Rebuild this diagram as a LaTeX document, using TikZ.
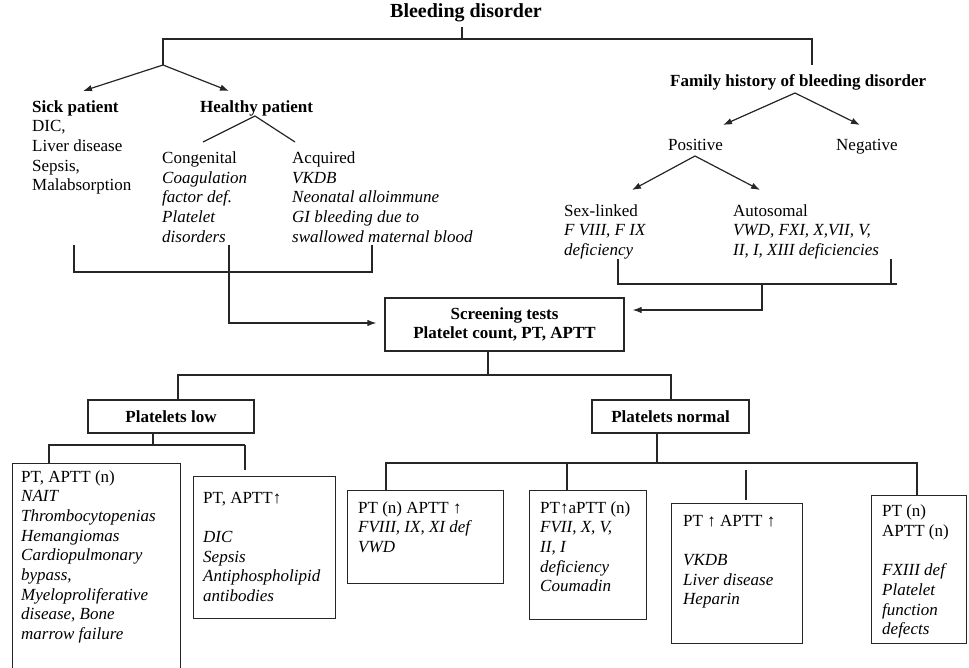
\documentclass[tikz,border=0pt]{standalone}
\usepackage{fontspec}
\setmainfont{Liberation Serif}
\usetikzlibrary{arrows.meta}
\tikzset{
  txt/.style={inner sep=0pt, anchor=base west, align=left, font=\fontsize{17}{19.7}\selectfont},
  hdr/.style={txt, font=\bfseries\fontsize{17}{19.7}\selectfont},
  ln/.style={line width=1.2pt, draw=black!85},
  arr/.style={ln, -{Latex[length=9pt,width=6.5pt]}},
  frame/.style={draw=black!85, line width=1.2pt, anchor=north west, inner sep=0pt},
  bbox/.style={draw=black!85, line width=1.2pt, inner sep=0pt, align=center, font=\bfseries\fontsize{17}{19.7}\selectfont},
}
\begin{document}
\begin{tikzpicture}[x=1pt,y=-1pt]
\useasboundingbox (0,0) rectangle (969,667);

% title and top split
\node[font=\bfseries\fontsize{20}{24}\selectfont, inner sep=0pt, anchor=base] (title) at (466,17.5) {Bleeding disorder};
\coordinate (tv) at (462,27);
\coordinate (hl) at (163,39);
\coordinate (hr) at (812,39);
\coordinate (jl) at (163,65);
\coordinate (jr) at (812,65);
\draw[ln] (tv) |- (hl) -- (jl);
\draw[ln] (tv) |- (hr) -- (jr);

% left side (multi-line nodes are placed by the baseline of their last line)
\node[txt] (sick) at (32,190.8) {\textbf{Sick patient}\\DIC,\\Liver disease\\Sepsis,\\Malabsorption};
\node[hdr] (healthy) at (200,112) {Healthy patient};
\coordinate (as) at (83,91);
\coordinate (ah) at (229,91);
\draw[arr] (jl) -- (as);
\draw[arr] (jl) -- (ah);
\coordinate (hs) at (255,116);
\coordinate (hc) at (203,142);
\coordinate (ha) at (295,142);
\draw[ln] (hc) -- (hs) -- (ha);
\node[txt] (cong) at (162,242.1) {Congenital\\\textit{Coagulation}\\\textit{factor def.}\\\textit{Platelet}\\\textit{disorders}};
\node[txt] (acq) at (292,242.1) {Acquired\\\textit{VKDB}\\\textit{Neonatal alloimmune}\\\textit{GI bleeding due to}\\\textit{swallowed maternal blood}};

% right side
\node[hdr] (fam) at (670,86.7) {Family history of bleeding disorder};
\coordinate (fs) at (795,93);
\coordinate (fp) at (723,125);
\coordinate (fn) at (860,125);
\draw[arr] (fs) -- (fp);
\draw[arr] (fs) -- (fn);
\node[txt] (pos) at (668,150.7) {Positive};
\node[txt] (neg) at (836,150.7) {Negative};
\coordinate (ps) at (695,156);
\coordinate (pl) at (632,190);
\coordinate (pa) at (760,190);
\draw[arr] (ps) -- (pl);
\draw[arr] (ps) -- (pa);
\node[txt] (sex) at (564,255.4) {Sex-linked\\\textit{F VIII, F IX}\\\textit{deficiency}};
\node[txt] (auto) at (733,255.4) {Autosomal\\\textit{VWD, FXI, X,VII, V,}\\\textit{II, I, XIII deficiencies}};

% screening
\node[bbox, minimum width=239pt, minimum height=53pt] (screen) at (504.5,324.5) {Screening tests\\Platelet count, PT, APTT};

\coordinate (b1) at (74,245);
\coordinate (b2) at (74,272);
\coordinate (b3) at (372,272);
\coordinate (b4) at (372,245);
\coordinate (bm) at (229,245);
\coordinate (bn) at (229,323);
\draw[ln] (b1) -- (b2) -- (b3) -- (b4);
\draw[arr, shorten >=8pt] (bm) -- (bn) -- (screen.west |- bn);

\coordinate (r1) at (618,259);
\coordinate (r2) at (618,284);
\coordinate (r3) at (897,284);
\coordinate (r4) at (891,259);
\coordinate (rm) at (762,284);
\coordinate (rn) at (762,310);
\draw[ln] (r1) -- (r2) -- (r3);
\draw[ln] (r4) -- (r4 |- r3);
\draw[arr, shorten >=8pt] (rm) -- (rn) -- (screen.east |- rn);

% platelets
\coordinate (sv) at (488,375);
\coordinate (lv) at (178,375);
\coordinate (nv) at (671,375);
\node[bbox, minimum width=166pt, minimum height=33pt] (low) at (171,416.5) {Platelets low};
\node[bbox, minimum width=157pt, minimum height=33pt] (normal) at (670.5,416.5) {Platelets normal};
\draw[ln] (screen.south -| sv) -- (sv);
\draw[ln] (low.north -| lv) -- (lv) -- (nv) -- (normal.north -| nv);

% result boxes
\node[frame, minimum width=168pt, minimum height=215pt] (boxA) at (12,463) {};
\node[frame, minimum width=142pt, minimum height=142pt] (boxB) at (193,476) {};
\node[frame, minimum width=156pt, minimum height=93pt] (boxC) at (347,490) {};
\node[frame, minimum width=117pt, minimum height=129pt] (boxD) at (529,490) {};
\node[frame, minimum width=131pt, minimum height=140pt] (boxE) at (671,503) {};
\node[frame, minimum width=95pt, minimum height=148pt] (boxF) at (871,495) {};

\node[txt] (txA) at (21,639.6) {PT, APTT (n)\\\textit{NAIT}\\\textit{Thrombocytopenias}\\\textit{Hemangiomas}\\\textit{Cardiopulmonary}\\\textit{bypass,}\\\textit{Myeloproliferative}\\\textit{disease, Bone}\\\textit{marrow failure}};
\node[txt] (txB) at (203,601.5) {PT, APTT↑\\[19.7pt]\textit{DIC}\\\textit{Sepsis}\\\textit{Antiphospholipid}\\\textit{antibodies}};
\node[txt] (txC) at (358,552.4) {PT (n) APTT ↑\\\textit{FVIII, IX, XI def}\\\textit{VWD}};
\node[txt] (txD) at (540,591.8) {PT↑aPTT (n)\\\textit{FVII, X, V,}\\\textit{II, I}\\\textit{deficiency}\\\textit{Coumadin}};
\node[txt] (txE) at (683,604.8) {PT ↑ APTT ↑\\[19.7pt]\textit{VKDB}\\\textit{Liver disease}\\\textit{Heparin}};
\node[txt] (txF) at (882,634.9) {PT (n)\\APTT (n)\\[19.7pt]\textit{FXIII def}\\\textit{Platelet}\\\textit{function}\\\textit{defects}};

% branches below
\coordinate (lb) at (153,445);
\coordinate (la) at (49,445);
\coordinate (lc) at (245,445);
\draw[ln] (low.south -| lb) -- (lb);
\draw[ln] (boxA.north -| la) -- (la) -- (lc);
\draw[ln, shorten >=6pt] (lc) -- (boxB.north -| lc);

\coordinate (nb) at (657,463);
\coordinate (n1) at (386,463);
\coordinate (n2) at (567,463);
\coordinate (n4) at (917,463);
\coordinate (ev) at (746,470);
\draw[ln] (normal.south -| nb) -- (nb);
\draw[ln] (boxC.north -| n1) -- (n1) -- (n4) -- (boxF.north -| n4);
\draw[ln] (n2) -- (boxD.north -| n2);
\draw[ln, shorten >=3pt] (ev) -- (boxE.north -| ev);
\end{tikzpicture}
\end{document}
